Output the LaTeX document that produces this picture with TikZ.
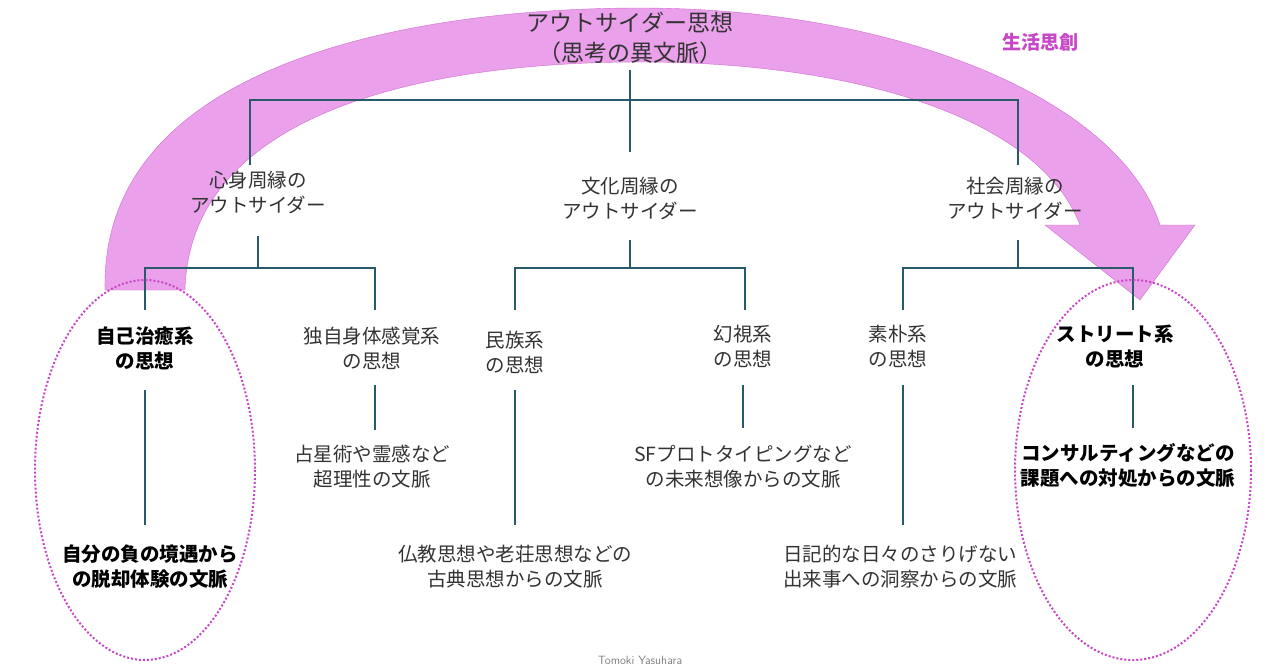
\documentclass[tikz,border=0pt]{standalone}
\usepackage{fontspec}
\setmainfont{Noto Sans CJK JP}
\definecolor{arr}{RGB}{232,150,232}
\definecolor{arrd}{RGB}{205,100,205}
\definecolor{lnc}{RGB}{40,90,105}
\definecolor{ovc}{RGB}{200,70,200}
\begin{document}
\begin{tikzpicture}[x=1pt,y=-1pt,
  ln/.style={draw=lnc,line width=1.3pt},
  t/.style={align=center,font=\fontsize{19.5}{25}\selectfont,text=black!80,inner sep=1pt},
  tb/.style={t,font=\fontsize{19.5}{25}\selectfont\bfseries,text=black},
  ov/.style={draw=ovc,line width=2pt,dotted}]
\useasboundingbox[fill=white] (0,0) rectangle (1280,670);
% arrow
\fill[arr,opacity=0.9,draw=arrd]
 (105,290) .. controls (100,60) and (420,8) .. (640,8)
 .. controls (900,8) and (1120,100) .. (1160,225)
 -- (1195,225) -- (1140,300) -- (1045,225) -- (1080,225)
 .. controls (1040,120) and (860,62) .. (640,62)
 .. controls (430,62) and (190,110) .. (185,290) -- cycle;
% title
\node[t,font=\fontsize{23}{30}\selectfont] (top) at (630,38) {アウトサイダー思想\\（思考の異文脈）};
\node[font=\fontsize{19}{22}\selectfont\bfseries,text=ovc] (lbl) at (1040,42) {生活思創};
\node[t] (m1) at (258,192) {心身周縁の\\アウトサイダー};
\node[t] (m2) at (630,198) {文化周縁の\\アウトサイダー};
\node[t] (m3) at (1015,198) {社会周縁の\\アウトサイダー};
\node[tb] (l1) at (145,348) {自己治癒系\\の思想};
\node[t] (l2) at (372,348) {独自身体感覚系\\の思想};
\node[t] (l3) at (515,352) {民族系\\の思想};
\node[t] (l4) at (743,346) {幻視系\\の思想};
\node[t] (l5) at (898,346) {素朴系\\の思想};
\node[tb] (l6) at (1115,346) {ストリート系\\の思想};
\node[tb] (b1) at (150,567) {自分の負の境遇から\\の脱却体験の文脈};
\node[t] (b2) at (372,467) {占星術や霊感など\\超理性の文脈};
\node[t] (b3) at (515,567) {仏教思想や老荘思想などの\\古典思想からの文脈};
\node[t] (b4) at (743,467) {SFプロトタイピングなど\\の未来想像からの文脈};
\node[t] (b5) at (900,567) {日記的な日々のさりげない\\出来事への洞察からの文脈};
\node[tb] (b6) at (1128,465) {コンサルティングなどの\\課題への対処からの文脈};
\node[font=\fontsize{12}{14}\selectfont\sffamily,text=gray] (cr) at (640,660) {Tomoki Yasuhara};
% tree lines
\draw[ln] (630,70) -- (630,152);
\draw[ln] (250,165) -- (250,100) -- (1018,100) -- (1018,165);
\draw[ln] (258,236) -- (258,268);
\draw[ln] (145,310) -- (145,268) -- (375,268) -- (375,310);
\draw[ln] (630,240) -- (630,268);
\draw[ln] (515,310) -- (515,268) -- (745,268) -- (745,310);
\draw[ln] (1018,240) -- (1018,268);
\draw[ln] (903,310) -- (903,268) -- (1133,268) -- (1133,310);
\draw[ln] (145,390) -- (145,525);
\draw[ln] (375,385) -- (375,430);
\draw[ln] (515,390) -- (515,525);
\draw[ln] (743,385) -- (743,428);
\draw[ln] (903,385) -- (903,525);
\draw[ln] (1133,385) -- (1133,428);
% ovals
\draw[ov] (145,470) ellipse [x radius=110, y radius=190];
\draw[ov] (1133,470) ellipse [x radius=118, y radius=190];
\end{tikzpicture}
\end{document}
